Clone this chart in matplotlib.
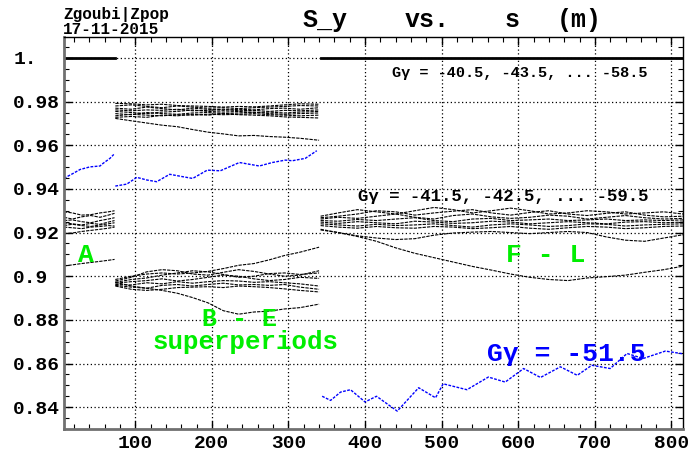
import numpy as np
import matplotlib.pyplot as plt
from matplotlib.ticker import MultipleLocator, FixedLocator

plt.rcParams['font.family'] = ['Liberation Mono', 'DejaVu Sans Mono']
plt.rcParams['font.weight'] = 'bold'

# ---- segment A (s < 74 m)
s_A = [7, 18, 30, 42, 54, 65, 73]
one_A = [1.0, 1.0, 1.0, 1.0, 1.0, 1.0, 1.0]
A_bundle = [
    [0.9295, 0.9290, 0.9280, 0.9282, 0.9290, 0.9295, 0.9300],
    [0.9270, 0.9262, 0.9272, 0.9278, 0.9270, 0.9280, 0.9288],
    [0.9255, 0.9258, 0.9250, 0.9245, 0.9255, 0.9262, 0.9268],
    [0.9245, 0.9240, 0.9235, 0.9242, 0.9238, 0.9248, 0.9255],
    [0.9232, 0.9238, 0.9232, 0.9228, 0.9235, 0.9240, 0.9245],
    [0.9225, 0.9222, 0.9218, 0.9225, 0.9228, 0.9232, 0.9230],
    [0.9195, 0.9198, 0.9205, 0.9210, 0.9215, 0.9220, 0.9225],
    [0.9047, 0.9052, 0.9058, 0.9063, 0.9068, 0.9073, 0.9077],
]
blue_A_s = [7, 13, 19, 28, 41, 54, 58, 67, 72]
blue_A = [0.9448, 0.9460, 0.9471, 0.9489, 0.9501, 0.9505, 0.9517, 0.9540, 0.9558]

# ---- segments B - E (74 - 340 m)
s_BE = [74, 95, 115, 135, 155, 175, 195, 215, 235, 255, 275, 295, 315, 340]
BE_high = [
    [0.9792, 0.9790, 0.9785, 0.9788, 0.9782, 0.9780, 0.9778, 0.9775, 0.9778, 0.9776, 0.9780, 0.9785, 0.9790, 0.9788],
    [0.9780, 0.9785, 0.9778, 0.9772, 0.9780, 0.9775, 0.9770, 0.9772, 0.9768, 0.9772, 0.9775, 0.9778, 0.9782, 0.9780],
    [0.9770, 0.9765, 0.9775, 0.9768, 0.9762, 0.9770, 0.9765, 0.9760, 0.9765, 0.9762, 0.9768, 0.9770, 0.9765, 0.9772],
    [0.9762, 0.9758, 0.9762, 0.9760, 0.9765, 0.9758, 0.9760, 0.9765, 0.9758, 0.9760, 0.9755, 0.9760, 0.9758, 0.9762],
    [0.9755, 0.9750, 0.9745, 0.9752, 0.9755, 0.9762, 0.9755, 0.9752, 0.9755, 0.9750, 0.9752, 0.9748, 0.9752, 0.9755],
    [0.9745, 0.9740, 0.9750, 0.9745, 0.9742, 0.9748, 0.9750, 0.9745, 0.9748, 0.9752, 0.9745, 0.9742, 0.9745, 0.9748],
    [0.9735, 0.9742, 0.9738, 0.9735, 0.9740, 0.9738, 0.9742, 0.9740, 0.9742, 0.9745, 0.9740, 0.9738, 0.9735, 0.9738],
    [0.9728, 0.9732, 0.9728, 0.9738, 0.9735, 0.9742, 0.9738, 0.9745, 0.9740, 0.9738, 0.9735, 0.9730, 0.9728, 0.9725],
    [0.9723, 0.9712, 0.9702, 0.9692, 0.9685, 0.9672, 0.9660, 0.9652, 0.9643, 0.9645, 0.9640, 0.9637, 0.9632, 0.9623],
]
BE_low = [
    [0.8985, 0.9000, 0.9010, 0.9015, 0.9010, 0.9015, 0.9022, 0.9035, 0.9050, 0.9058, 0.9075, 0.9095, 0.9110, 0.9133],
    [0.8978, 0.8995, 0.9020, 0.9030, 0.9025, 0.9010, 0.9005, 0.9018, 0.9030, 0.9022, 0.9010, 0.9000, 0.9005, 0.9025],
    [0.8972, 0.8985, 0.8992, 0.9005, 0.9015, 0.9025, 0.9020, 0.9008, 0.8995, 0.9000, 0.9012, 0.9015, 0.9008, 0.9015],
    [0.8968, 0.8975, 0.8980, 0.8988, 0.8978, 0.8985, 0.8995, 0.9005, 0.9000, 0.8988, 0.8980, 0.8985, 0.8995, 0.8990],
    [0.8962, 0.8960, 0.8970, 0.8965, 0.8975, 0.8968, 0.8975, 0.8980, 0.8978, 0.8972, 0.8975, 0.8970, 0.8965, 0.8955],
    [0.8958, 0.8950, 0.8945, 0.8958, 0.8962, 0.8955, 0.8962, 0.8968, 0.8960, 0.8962, 0.8958, 0.8962, 0.8950, 0.8940],
    [0.8955, 0.8940, 0.8935, 0.8940, 0.8948, 0.8950, 0.8952, 0.8948, 0.8955, 0.8952, 0.8948, 0.8942, 0.8935, 0.8928],
    [0.8972, 0.8955, 0.8945, 0.8935, 0.8922, 0.8902, 0.8878, 0.8842, 0.8826, 0.8836, 0.8840, 0.8850, 0.8856, 0.8872],
]
blue_BE_s = [74, 89, 102, 115, 128, 145, 162, 175, 194, 211, 236, 262, 279, 296, 305, 322, 337]
blue_BE = [0.9413, 0.9422, 0.9453, 0.9441, 0.9433, 0.9467, 0.9456, 0.9448, 0.9486,
           0.9483, 0.9521, 0.9505, 0.9521, 0.9532, 0.9529, 0.9540, 0.9575]

# ---- segments F - L (342 - 815 m)
s_FL = [342, 365, 390, 415, 440, 465, 490, 515, 540, 565, 590, 615, 640, 665, 690, 715, 740, 765, 790, 815]
one_FL = [1.0] * len(s_FL)
FL_bundle = [
    [0.9275, 0.9290, 0.9305, 0.9295, 0.9285, 0.9300, 0.9315, 0.9305, 0.9290, 0.9300, 0.9312, 0.9300, 0.9285, 0.9290, 0.9300, 0.9295, 0.9285, 0.9290, 0.9295, 0.9285],
    [0.9268, 0.9275, 0.9285, 0.9300, 0.9295, 0.9280, 0.9290, 0.9298, 0.9305, 0.9290, 0.9280, 0.9292, 0.9300, 0.9285, 0.9278, 0.9288, 0.9295, 0.9280, 0.9272, 0.9275],
    [0.9262, 0.9270, 0.9265, 0.9275, 0.9285, 0.9270, 0.9262, 0.9278, 0.9285, 0.9272, 0.9265, 0.9270, 0.9280, 0.9275, 0.9262, 0.9270, 0.9278, 0.9268, 0.9262, 0.9265],
    [0.9255, 0.9252, 0.9260, 0.9255, 0.9262, 0.9268, 0.9255, 0.9250, 0.9262, 0.9265, 0.9255, 0.9258, 0.9262, 0.9255, 0.9258, 0.9262, 0.9255, 0.9258, 0.9255, 0.9258],
    [0.9248, 0.9242, 0.9250, 0.9245, 0.9240, 0.9252, 0.9248, 0.9242, 0.9245, 0.9252, 0.9248, 0.9240, 0.9245, 0.9250, 0.9245, 0.9240, 0.9248, 0.9250, 0.9245, 0.9248],
    [0.9240, 0.9235, 0.9230, 0.9238, 0.9232, 0.9235, 0.9240, 0.9232, 0.9225, 0.9235, 0.9240, 0.9235, 0.9228, 0.9232, 0.9240, 0.9238, 0.9230, 0.9235, 0.9238, 0.9240],
    [0.9232, 0.9225, 0.9220, 0.9228, 0.9222, 0.9220, 0.9228, 0.9225, 0.9218, 0.9222, 0.9228, 0.9220, 0.9215, 0.9222, 0.9228, 0.9225, 0.9218, 0.9222, 0.9228, 0.9230],
    [0.9215, 0.9200, 0.9185, 0.9175, 0.9168, 0.9172, 0.9188, 0.9198, 0.9202, 0.9205, 0.9200, 0.9195, 0.9200, 0.9205, 0.9200, 0.9180, 0.9165, 0.9160, 0.9175, 0.9190],
    [0.9212, 0.9200, 0.9182, 0.9160, 0.9130, 0.9105, 0.9085, 0.9065, 0.9045, 0.9028, 0.9010, 0.8995, 0.8985, 0.8980, 0.8992, 0.8998, 0.9005, 0.9018, 0.9030, 0.9046],
]
blue_FL_s = [344, 355, 368, 381, 400, 415, 442, 470, 492, 502, 533, 561, 583, 607, 629, 655,
             677, 696, 720, 742, 763, 792, 814]
blue_FL = [0.8450, 0.8431, 0.8469, 0.8480, 0.8424, 0.8450, 0.8382, 0.8489, 0.8443, 0.8507,
           0.8480, 0.8538, 0.8515, 0.8577, 0.8536, 0.8585, 0.8546, 0.8592, 0.8577, 0.8646,
           0.8623, 0.8657, 0.8645]

x_ticks = [100, 200, 300, 400, 500, 600, 700, 800]
y_ticks = [0.84, 0.86, 0.88, 0.9, 0.92, 0.94, 0.96, 0.98, 1.0]
y_labels = ['0.84', '0.86', '0.88', '0.9', '0.92', '0.94', '0.96', '0.98', '1.']

fig = plt.figure(figsize=(6.94, 4.53), dpi=100)
ax = fig.add_axes([0.0922, 0.053, 0.8919, 0.8653])

blk = dict(color='black', lw=0.8, ls=(0, (3, 1)))
for c in A_bundle:
    ax.plot(s_A, c, **blk)
for c in BE_high + BE_low:
    ax.plot(s_BE, c, **blk)
for c in FL_bundle:
    ax.plot(s_FL, c, **blk)
ax.plot(s_A, one_A, color='black', lw=2)
ax.plot(s_FL, one_FL, color='black', lw=2)

bl = dict(color='#0000ff', lw=1.0, ls=(0, (2, 1)))
ax.plot(blue_A_s, blue_A, **bl)
ax.plot(blue_BE_s, blue_BE, **bl)
ax.plot(blue_FL_s, blue_FL, **bl)

ax.set_xlim(7, 815)
ax.set_ylim(0.83, 1.0096)
ax.xaxis.set_major_locator(FixedLocator(x_ticks))
ax.xaxis.set_minor_locator(MultipleLocator(20))
ax.yaxis.set_major_locator(FixedLocator(y_ticks))
ax.yaxis.set_minor_locator(MultipleLocator(0.005))
ax.set_xticklabels([str(v) for v in x_ticks], fontsize=14, fontweight='bold')
ax.set_yticklabels(y_labels, fontsize=14, fontweight='bold')
for lab in ax.get_yticklabels():
    lab.set_horizontalalignment('left')
ax.tick_params(axis='y', which='major', pad=36.5)
ax.tick_params(axis='x', which='major', pad=4)
ax.tick_params(which='both', direction='in', top=True, right=True)
ax.tick_params(which='major', length=6, width=1)
ax.tick_params(which='minor', length=3.5, width=0.8)
ax.grid(True, which='major', color='black', ls=(0, (1, 2)), lw=0.9)

for side in ['left', 'bottom']:
    ax.spines[side].set_color('#707070')
    ax.spines[side].set_linewidth(2)
for side in ['top', 'right']:
    ax.spines[side].set_linewidth(1)

# header texts
fig.text(63 / 694, 1 - 14 / 453, 'Zgoubi|Zpop', fontsize=11.5, va='center', ha='left')
fig.text(63 / 694, 1 - 29 / 453, '17-11-2015', fontsize=11.5, va='center', ha='left')
for word, px in [('S_y', 303), ('vs.', 405), ('s', 505), ('(m)', 557)]:
    fig.text(px / 694, 1 - 20 / 453, word, fontsize=18, va='center', ha='left')

# annotations
fig.text(392 / 694, 1 - 73 / 453, 'G\u03b3 = -40.5, -43.5, ... -58.5', fontsize=11, va='center', ha='left')
fig.text(358 / 694, 1 - 197 / 453, 'G\u03b3 = -41.5, -42.5, ... -59.5', fontsize=12.5, va='center', ha='left')
green = '#00ee00'
fig.text(86 / 694, 1 - 255 / 453, 'A', fontsize=19, color=green, va='center', ha='center')
fig.text(240 / 694, 1 - 319 / 453, 'B - E', fontsize=18, color=green, va='center', ha='center')
fig.text(246 / 694, 1 - 349 / 453, 'superperiods', fontsize=18.5, color=green, va='baseline', ha='center')
fig.text(546 / 694, 1 - 255 / 453, 'F - L', fontsize=19, color=green, va='center', ha='center')
fig.text(566 / 694, 1 - 354 / 453, 'G\u03b3 = -51.5', fontsize=19, color='#0000ff', va='center', ha='center')

fig.savefig('out.png', dpi=100)
